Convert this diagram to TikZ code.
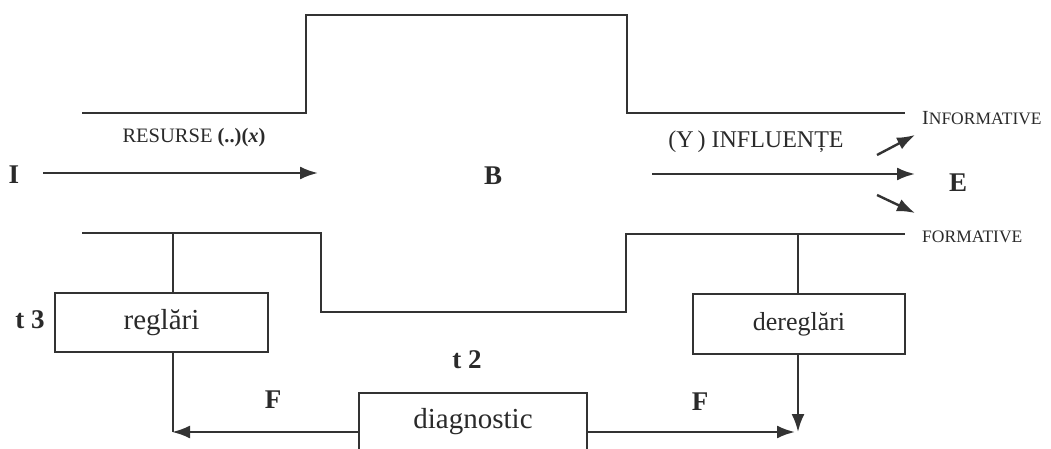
\documentclass[tikz,border=0pt]{standalone}
\usepackage{fontspec}
\setmainfont{Liberation Serif}
\usetikzlibrary{arrows.meta}
\definecolor{ink}{HTML}{333333}
\definecolor{txt}{HTML}{2A2A2A}
\tikzset{
  every node/.style={text=txt, inner sep=0pt},
  wire/.style={draw=ink, line width=2.4pt},
  arr/.style={wire, -{Latex[length=18pt,width=13pt]}},
  box/.style={draw=ink, line width=2.4pt, rectangle, fill=white, font=\fontsize{29}{34}\selectfont},
  big/.style={font=\fontsize{27}{32}\selectfont\bfseries, anchor=base},
  lab/.style={font=\fontsize{20.5}{24}\selectfont, anchor=base},
}
\begin{document}
\begin{tikzpicture}[x=1pt,y=-1pt]
\useasboundingbox (0,0) rectangle (1051,449);
\fill[white] (0,0) rectangle (1051,449);
\clip (0,0) rectangle (1051,449);
% top outline
\coordinate (t1) at (82,113);
\coordinate (t2) at (306,113);
\coordinate (t3) at (306,15);
\coordinate (t4) at (627,15);
\coordinate (t5) at (627,113);
\coordinate (t6) at (905,113);
\draw[wire] (t1) -- (t2) -- (t3) -- (t4) -- (t5) -- (t6);
% bottom outline
\coordinate (b1) at (82,233);
\coordinate (b2) at (321,233);
\coordinate (b3) at (321,312);
\coordinate (b4) at (626,312);
\coordinate (b5) at (626,234);
\coordinate (b6) at (905,234);
\draw[wire] (b1) -- (b2) -- (b3) -- (b4) -- (b5) -- (b6);
\coordinate (bl) at (173,233);
\coordinate (br) at (798,234);
% boxes
\node[box, minimum width=213pt, minimum height=59pt] (reg) at (161.5,322.5) {reglări};
\node[box, minimum width=212pt, minimum height=60pt, font=\fontsize{26}{30}\selectfont] (dereg) at (799,324) {dereglări};
\node[box, minimum width=228pt, minimum height=58pt] (diag) at (473,422) {diagnostic};
% branch lines
\draw[wire] (bl) -- (bl |- reg.north);
\draw[wire] (br) -- (br |- dereg.north);
\coordinate (cl) at (173,432);
\coordinate (cr) at (798,432);
\draw[wire] (cl |- reg.south) -- (cl);
\draw[arr] (diag.west |- cl) -- ([xshift=-1pt]cl);
\draw[arr] (cr |- dereg.south) -- (cr);
\draw[arr] (diag.east |- cr) -- ([xshift=-3pt]cr);
% labels
\node[big] (I) at (14,183) {I};
\node[big] (B) at (493,185) {B};
\node[big] (E) at (958,192) {E};
\node[big] (t3l) at (30,328) {t 3};
\node[big] (t2l) at (467,368) {t 2};
\node[big] (F1) at (273,408) {F};
\node[big] (F2) at (700,410) {F};
\node[lab] (res) at (194,143) {RESURSE \textbf{(..)(\textit{x})}};
\node[lab, font=\fontsize{24}{28}\selectfont] (infl) at (756,148) {(Y\,) INFLUENȚE};
\node[anchor=base west, font=\fontsize{20}{24}\selectfont] (inf) at (922,125) {I{\fontsize{17.5}{20}\selectfont NFORMATIVE}};
\node[anchor=base west, font=\fontsize{17.5}{20}\selectfont] (form) at (922,242) {FORMATIVE};
% arrows
\coordinate (ia) at (43,173);
\coordinate (ib) at (318,173);
\draw[arr] (ia) -- (ib);
\coordinate (oa) at (652,174);
\coordinate (ob) at (915,174);
\draw[arr] (oa) -- (ob);
\coordinate (ua) at (877,155);
\coordinate (ub) at (915,135);
\draw[arr] (ua) -- (ub);
\coordinate (da) at (877,195);
\coordinate (db) at (915,213);
\draw[arr] (da) -- (db);
\end{tikzpicture}
\end{document}
